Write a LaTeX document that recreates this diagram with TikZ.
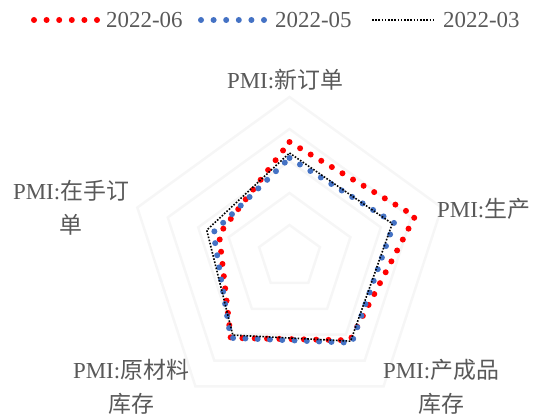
\documentclass[tikz,border=0pt]{standalone}
\usepackage{fontspec}
\setmainfont{Liberation Serif}
\newfontfamily\cjk{Noto Sans CJK SC}
\definecolor{txtgray}{HTML}{595959}
\definecolor{dred}{HTML}{FF0000}
\definecolor{dblue}{HTML}{4472C4}
\definecolor{gridc}{HTML}{F6F6F6}
\tikzset{
  reddots/.style={draw=dred,line width=6bp,line cap=round,dash pattern=on 0bp off 12.3bp},
  bluedots/.style={draw=dblue,line width=6bp,line cap=round,dash pattern=on 0bp off 12.3bp},
  blackdots/.style={draw=black,line width=1.6bp,dash pattern=on 1.6bp off 1.6bp},
  gridring/.style={draw=gridc,line width=2.5bp},
  lbl/.style={text=txtgray,inner sep=0pt,align=center,font=\fontsize{23}{34}\selectfont},
}
\begin{document}
\begin{tikzpicture}[x=1bp,y=1bp]
\useasboundingbox (0,0) rectangle (550,415);
\coordinate (c) at (289.5,158);
% grid rings
\begin{scope}[shift={(c)}]
\foreach \r in {32,64,96,128,160}{
  \draw[gridring] (90:\r bp) -- (18:\r bp) -- (-54:\r bp) -- (-126:\r bp) -- (162:\r bp) -- cycle;
}
% 2022-03
\coordinate (k1) at (90:104bp);
\coordinate (k2) at (18:108bp);
\coordinate (k3) at (-54:104bp);
\coordinate (k4) at (-126:96.5bp);
\coordinate (k5) at (162:87bp);
% 2022-05
\coordinate (b1) at (90:99bp);
\coordinate (b2) at (18:110bp);
\coordinate (b3) at (-54:106bp);
\coordinate (b4) at (-126:100bp);
\coordinate (b5) at (162:80bp);
% 2022-06
\coordinate (r1) at (90:115bp);
\coordinate (r2) at (18:132bp);
\coordinate (r3) at (-54:103bp);
\coordinate (r4) at (-126:100bp);
\coordinate (r5) at (162:74bp);
\end{scope}
\draw[reddots] (r1) -- (r2) -- (r3) -- (r4) -- (r5) -- cycle;
\draw[bluedots] (b1) -- (b2) -- (b3) -- (b4) -- (b5) -- cycle;
\draw[blackdots] (k1) -- (k2) -- (k3) -- (k4) -- (k5) -- cycle;
% axis labels
\node[lbl] (lt) at (285,335) {PMI:{\cjk 新订单}};
\node[lbl,anchor=west] (lr) at (437,206) {PMI:{\cjk 生产}};
\node[lbl] (lbr) at (441,28) {PMI:{\cjk 产成品}\\{\cjk 库存}};
\node[lbl] (lbl) at (131,28) {PMI:{\cjk 原材料}\\{\cjk 库存}};
\node[lbl] (ll) at (71,207) {PMI:{\cjk 在手订}\\{\cjk 单}};
% legend
\coordinate (g1a) at (34,395); \coordinate (g1b) at (97.5,395);
\coordinate (g2a) at (201,395); \coordinate (g2b) at (264.5,395);
\coordinate (g3a) at (372,395); \coordinate (g3b) at (435,395);
\draw[reddots,dash pattern=on 0bp off 12.6bp] (g1a) -- (g1b);
\draw[bluedots,dash pattern=on 0bp off 12.6bp] (g2a) -- (g2b);
\draw[blackdots] (g3a) -- (g3b);
\node[lbl,anchor=west] (t1) at (106,395) {2022-06};
\node[lbl,anchor=west] (t2) at (275,395) {2022-05};
\node[lbl,anchor=west] (t3) at (443,395) {2022-03};
\end{tikzpicture}
\end{document}
